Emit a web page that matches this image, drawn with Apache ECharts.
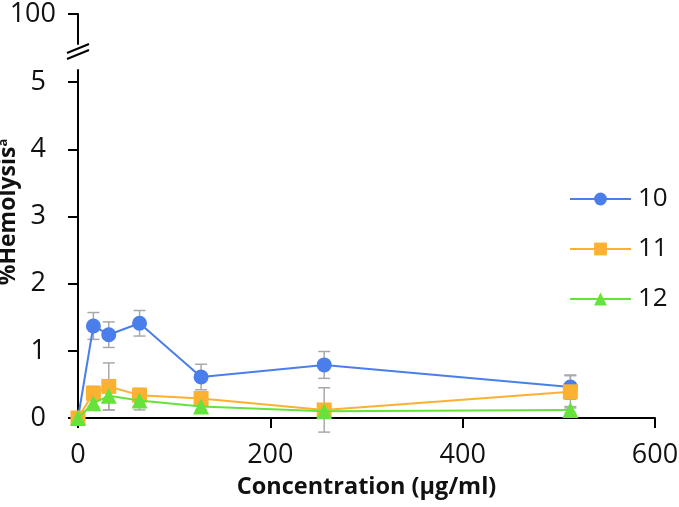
<!DOCTYPE html>
<html><head><meta charset="utf-8">
<script src="https://cdn.jsdelivr.net/npm/echarts@6/dist/echarts.min.js"></script>
<style>html,body{margin:0;padding:0;background:#fff}#c{width:679px;height:507px}</style>
</head><body><div id="c"></div>
<script>
// ---- data ----
const concentrations = [0, 16, 32, 64, 128, 256, 512];
const seriesNames = ['10', '11', '12'];
const hemo10 = [0, 1.37, 1.24, 1.41, 0.61, 0.79, 0.46];
const err10  = [0, 0.20, 0.19, 0.19, 0.19, 0.20, 0.18];
const hemo11 = [0, 0.37, 0.47, 0.34, 0.29, 0.12, 0.39];
const err11  = [0, 0.10, 0.35, 0.10, 0.10, 0.33, 0.24];
const hemo12 = [0, 0.22, 0.33, 0.26, 0.17, 0.10, 0.12];
const err12  = [0, 0.05, 0.21, 0.14, 0.05, 0.05, 0.05];
const yTickLower = [0, 1, 2, 3, 4, 5];
const yTickUpper = [100];
const xTickInterval = 200;

// ---- style ----
const FONT = 'Open Sans';
const colors = ['#4a7eea', '#fcb131', '#66e33a'];
const symbols = ['circle', 'rect', 'triangle'];
const G = { left: 78, right: 24, top: 70, bottom: 89 };
const GT = { top: 14, height: 30 };
const unitPx = (507 - G.top - G.bottom) / 5.18;
const upperMin = 100 - GT.height / unitPx;

const values = [hemo10, hemo11, hemo12];
const errs = [err10, err11, err12];

const lineSeries = values.map((v, i) => ({
  name: seriesNames[i], type: 'line', xAxisIndex: 0, yAxisIndex: 0,
  data: concentrations.map((c, j) => [c, v[j]]),
  symbol: symbols[i], symbolSize: i === 2 ? 16 : 15,
  lineStyle: { color: colors[i], width: 2 },
  itemStyle: { color: colors[i] },
  z: 5 + i, animation: false
}));

const errSeries = values.map((v, i) => ({
  type: 'custom', xAxisIndex: 0, yAxisIndex: 0, z: 3, silent: true,
  data: concentrations.map((c, j) => [c, v[j] - errs[i][j], v[j] + errs[i][j], errs[i][j]]),
  renderItem(params, api) {
    if (api.value(3) <= 0) return null;
    const x = api.value(0);
    const p1 = api.coord([x, api.value(2)]);
    const p2 = api.coord([x, api.value(1)]);
    const w = 6, st = { stroke: '#a9a9a9', lineWidth: 1.5 };
    return { type: 'group', children: [
      { type: 'line', shape: { x1: p1[0], y1: p1[1], x2: p2[0], y2: p2[1] }, style: st },
      { type: 'line', shape: { x1: p1[0] - w, y1: p1[1], x2: p1[0] + w, y2: p1[1] }, style: st },
      { type: 'line', shape: { x1: p2[0] - w, y1: p2[1], x2: p2[0] + w, y2: p2[1] }, style: st }
    ]};
  },
  animation: false
}));

const axisLine = { show: true, lineStyle: { color: '#000', width: 2 } };
const tick = { show: true, length: 10, lineStyle: { color: '#000', width: 2 } };

const chart = echarts.init(document.getElementById('c'));
chart.setOption({
  animation: false,
  textStyle: { fontFamily: FONT },
  grid: [
    { left: G.left, right: G.right, top: G.top, bottom: G.bottom, containLabel: false, outerBoundsMode: 'none' },
    { left: G.left, right: G.right, top: GT.top, height: GT.height, containLabel: false, outerBoundsMode: 'none' }
  ],
  xAxis: [
    { gridIndex: 0, type: 'value', min: 0, max: 600, interval: xTickInterval,
      axisLine, axisTick: tick, splitLine: { show: false },
      axisLabel: { fontSize: 27, color: '#111', margin: 24, fontFamily: FONT },
      name: 'Concentration (µg/ml)', nameLocation: 'middle', nameGap: 57,
      nameTextStyle: { fontSize: 23.5, fontWeight: 'bold', color: '#111', fontFamily: FONT } },
    { gridIndex: 1, type: 'value', min: 0, max: 600, show: false }
  ],
  yAxis: [
    { gridIndex: 0, type: 'value', min: 0, max: 5.18,
      axisLine, axisTick: Object.assign({ customValues: yTickLower }, tick),
      splitLine: { show: false },
      axisLabel: { customValues: yTickLower, fontSize: 27, color: '#111', margin: 32, fontFamily: FONT },
      name: '{b|%Hemolysis}{s|a}', nameLocation: 'middle', nameGap: 51,
      nameTextStyle: { padding: [0, 0, 0, 64],
        rich: { b: { fontSize: 23, fontWeight: 'bold', color: '#111', fontFamily: FONT },
                s: { fontSize: 13, fontWeight: 'bold', color: '#111', fontFamily: FONT, verticalAlign: 'top', padding: [0, 0, 10, 0] } } } },
    { gridIndex: 1, type: 'value', min: upperMin, max: 100,
      axisLine, axisTick: Object.assign({ customValues: yTickUpper }, tick),
      splitLine: { show: false },
      axisLabel: { customValues: yTickUpper, fontSize: 27, color: '#111', margin: 22, fontFamily: FONT } }
  ],
  legend: {
    orient: 'vertical', left: 569, top: 186, padding: 0, itemWidth: 61, itemHeight: 16, itemGap: 24,
    data: seriesNames,
    textStyle: { fontSize: 26, color: '#111', fontFamily: FONT, padding: [0, 0, 0, 2] }
  },
  graphic: [
    { type: 'line', shape: { x1: G.left - 11, y1: 59, x2: G.left + 11, y2: 50 }, style: { stroke: '#000', lineWidth: 2 } },
    { type: 'line', shape: { x1: G.left - 11, y1: 53, x2: G.left + 11, y2: 44 }, style: { stroke: '#000', lineWidth: 2 } }
  ],
  series: errSeries.concat(lineSeries)
});
</script></body></html>
